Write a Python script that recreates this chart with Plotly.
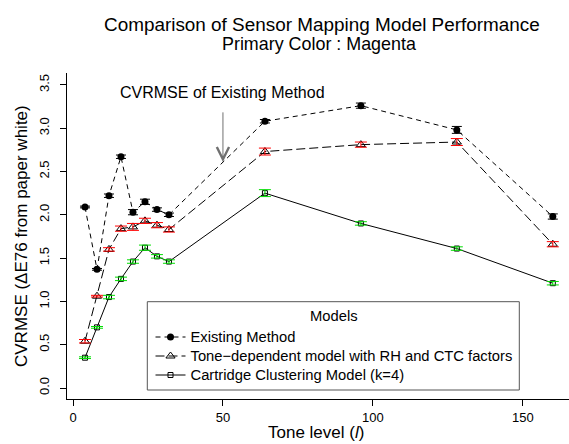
import plotly.graph_objects as go

# ---- data ----
tone_levels = [4, 8, 12, 16, 20, 24, 28, 32, 64, 96, 128, 160]
existing = [2.09, 1.37, 2.22, 2.67, 2.03, 2.15, 2.06, 2.00, 3.08, 3.26, 2.98, 1.98]
existing_err = [0.01, 0.01, 0.02, 0.02, 0.03, 0.03, 0.02, 0.02, 0.02, 0.03, 0.04, 0.03]
tone_dep = [0.54, 1.06, 1.60, 1.84, 1.86, 1.93, 1.88, 1.83, 2.73, 2.81, 2.84, 1.66]
tone_dep_err = [0.02, 0.01, 0.02, 0.03, 0.04, 0.03, 0.03, 0.03, 0.04, 0.03, 0.04, 0.03]
cartridge = [0.35, 0.70, 1.05, 1.26, 1.46, 1.62, 1.52, 1.46, 2.25, 1.90, 1.61, 1.21]
cartridge_err = [0.01, 0.01, 0.02, 0.02, 0.02, 0.03, 0.02, 0.02, 0.04, 0.02, 0.02, 0.02]

series_names = ["Existing Method",
                "Tone\u2212dependent model with RH and CTC factors",
                "Cartridge Clustering Model (k=4)"]
x_ticks = [0, 50, 100, 150]
y_ticks = [0.0, 0.5, 1.0, 1.5, 2.0, 2.5, 3.0, 3.5]

FONT = "Liberation Sans, Arial, Helvetica, sans-serif"
W, H = 569, 444
L, R, T, B = 67, 0, 73, 45
PW, PH = W - L - R, H - T - B
LEG_FS = 14.75


def px2x(px):
    return (px - L) / PW


def py2y(py):
    return (H - B - py) / PH


def leg_name(s):
    return '<span style="font-size:%gpx">%s</span>' % (LEG_FS, s)


fig = go.Figure()

fig.add_trace(go.Scatter(
    x=tone_levels, y=existing, name=leg_name(series_names[0]), mode="lines+markers",
    line=dict(color="black", width=1, dash="5px,4px"),
    marker=dict(symbol="circle", size=7, color="black")))
fig.add_trace(go.Scatter(
    x=tone_levels, y=tone_dep, name=leg_name(series_names[1]), mode="lines+markers",
    line=dict(color="black", width=1, dash="9px,4px"),
    marker=dict(symbol="triangle-up-open", size=8, color="black",
                line=dict(width=1, color="black"))))
fig.add_trace(go.Scatter(
    x=tone_levels, y=cartridge, name=leg_name(series_names[2]), mode="lines+markers",
    line=dict(color="black", width=1),
    marker=dict(symbol="square-open", size=5, color="black",
                line=dict(width=1, color="black"))))

# error bars drawn on top
for ys, errs, col, w in [(existing, existing_err, "black", 5),
                         (tone_dep, tone_dep_err, "#FF0000", 6),
                         (cartridge, cartridge_err, "#00DD00", 6)]:
    fig.add_trace(go.Scatter(
        x=tone_levels, y=ys, mode="markers", showlegend=False,
        hoverinfo="skip",
        marker=dict(size=1, color="rgba(0,0,0,0)"),
        error_y=dict(type="data", array=errs, visible=True,
                     color=col, thickness=1, width=w)))

axis_common = dict(showgrid=False, zeroline=False, showline=True,
                   linecolor="black", linewidth=1, ticks="outside",
                   ticklen=6, tickcolor="black", tickwidth=1,
                   tickfont=dict(family=FONT, size=13, color="black"),
                   mirror=False)

fig.update_layout(
    width=W, height=H, margin=dict(l=L, r=R, t=T, b=B),
    paper_bgcolor="white", plot_bgcolor="white",
    font=dict(family=FONT, color="black"),
    xaxis=dict(range=[-2.0, 165.4], tickvals=x_ticks,
               ticktext=[str(v) for v in x_ticks], **axis_common),
    yaxis=dict(range=[-0.127, 3.637], tickvals=y_ticks,
               ticktext=["%.1f" % v for v in y_ticks], tickangle=-90,
               ticklabelstandoff=6, **axis_common),
    legend=dict(x=px2x(150.5), y=py2y(322.5), xanchor="left", yanchor="top",
                bgcolor="rgba(0,0,0,0)", borderwidth=0,
                font=dict(family=FONT, size=12.3, color="black"),
                itemwidth=30),
    showlegend=True,
    shapes=[dict(type="rect", xref="paper", yref="paper",
                 x0=px2x(147.3), x1=px2x(519.3), y0=py2y(390), y1=py2y(301.7),
                 line=dict(color="#555555", width=1), fillcolor="white",
                 layer="below")],
)

annotations = [
    dict(text="Comparison of Sensor Mapping Model Performance",
         x=px2x(322), y=py2y(25), xref="paper", yref="paper",
         showarrow=False, font=dict(family=FONT, size=18.9, color="black"),
         xanchor="center", yanchor="middle"),
    dict(text="Primary Color : Magenta",
         x=px2x(318.5), y=py2y(44.5), xref="paper", yref="paper",
         showarrow=False, font=dict(family=FONT, size=17.9, color="black"),
         xanchor="center", yanchor="middle"),
    dict(text="Tone level (<i>l</i>)",
         x=px2x(316), y=py2y(432), xref="paper", yref="paper",
         showarrow=False, font=dict(family=FONT, size=17, color="black"),
         xanchor="center", yanchor="middle"),
    dict(text="CVRMSE (\u0394E76 from paper white)",
         x=px2x(21), y=py2y(236), xref="paper", yref="paper", textangle=-90,
         showarrow=False, font=dict(family=FONT, size=17, color="black"),
         xanchor="center", yanchor="middle"),
    dict(text="Models",
         x=px2x(334.3), y=py2y(315.5), xref="paper", yref="paper",
         showarrow=False, font=dict(family=FONT, size=LEG_FS, color="black"),
         xanchor="center", yanchor="middle"),
    dict(text="CVRMSE of Existing Method", x=50, y=3.41, xref="x", yref="y",
         showarrow=False, font=dict(family=FONT, size=16, color="black"),
         xanchor="center", yanchor="middle"),
    dict(text="", x=50, y=2.61, xref="x", yref="y", ax=50, ay=3.20,
         axref="x", ayref="y", showarrow=True, arrowhead=5, arrowsize=2.4,
         arrowwidth=1, arrowcolor="#707070"),
]
fig.update_layout(annotations=annotations)

fig.write_html("out.html")
